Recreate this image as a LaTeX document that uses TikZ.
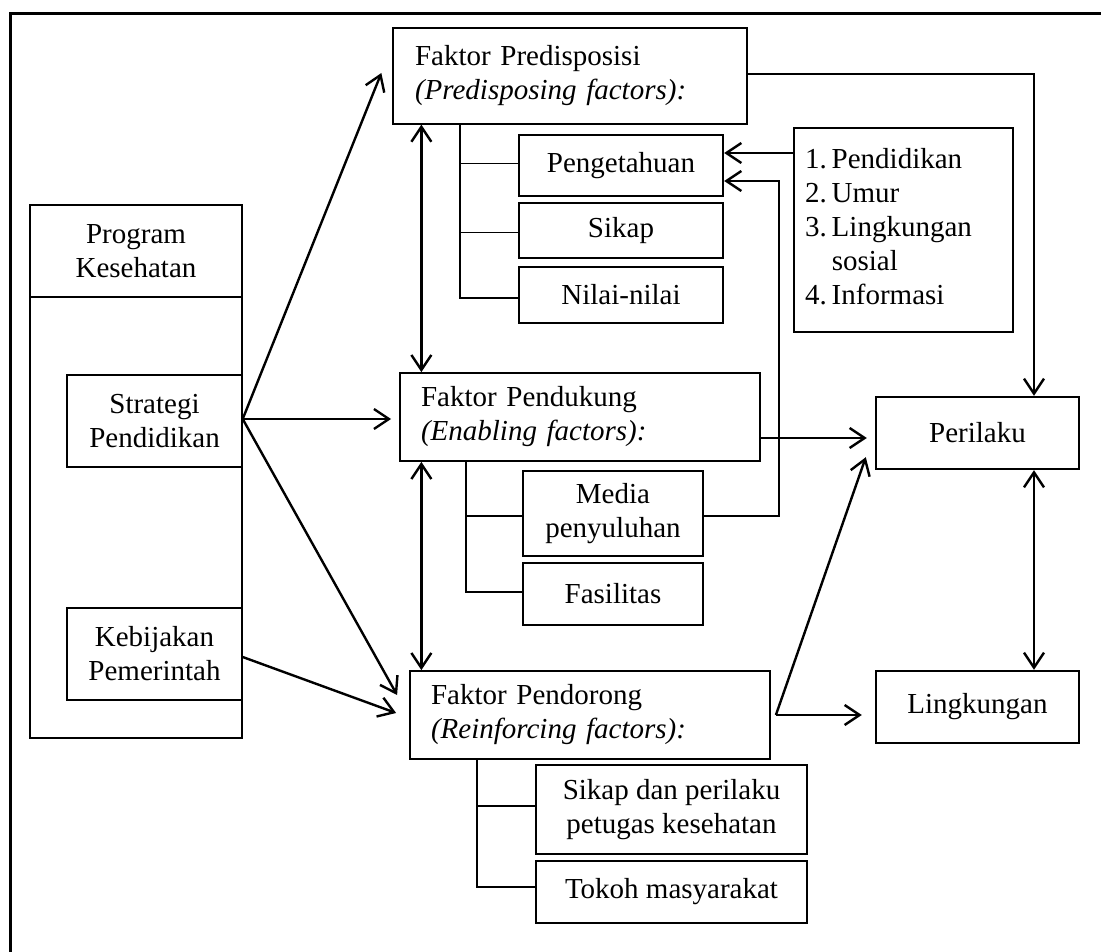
\documentclass[tikz,border=0pt]{standalone}
\usepackage{fontspec}
\setmainfont{Liberation Serif}
\usetikzlibrary{arrows.meta,calc}
\begin{document}
\begin{tikzpicture}[x=1pt,y=-1pt,
  every node/.style={font=\fontsize{29}{34}\selectfont, inner sep=0pt},
  thinbox/.style={draw, line width=1.4pt, align=center},
  thickbox/.style={draw, line width=2.4pt, align=center},
  leftbox/.style={draw, line width=1.8pt, align=left, text width=318pt, inner xsep=21pt, minimum height=88pt},
  tipshape/.style={},
  arr/.style={line width=2.4pt, -{Straight Barb[length=15pt,width=20pt,line width=2.4pt]}},
  biarr/.style={line width=2.4pt, {Straight Barb[length=15pt,width=20pt,line width=2.4pt]}-{Straight Barb[length=15pt,width=20pt,line width=2.4pt]}},
  tree/.style={line width=1.8pt}]
\useasboundingbox (0,0) rectangle (1101,952);
% outer frame
\draw[line width=3pt] (10,960) -- (10,14) -- (1110,14);

% left column
\node[thinbox, minimum width=212pt, minimum height=92pt] (progtitle) at (136,251) {Program\\Kesehatan};
\node[thinbox, minimum width=212pt, minimum height=441pt] (progbody) at (136,517.5) {};
\node[thinbox, minimum width=175pt, minimum height=92pt] (strat) at (154.5,421) {Strategi\\Pendidikan};
\node[thinbox, minimum width=175pt, minimum height=92pt] (kebij) at (154.5,654) {Kebijakan\\Pemerintah};

% factor boxes
\node[leftbox, line width=1.3pt, text width=310pt, inner xsep=22pt, minimum height=96pt] (pred) at (570,76) {Faktor Predisposisi\\\textit{(Predisposing factors):}};
\node[leftbox] (pend) at (580,417) {Faktor Pendukung\\\textit{(Enabling factors):}};
\node[leftbox] (pdr) at (590,715) {Faktor Pendorong\\\textit{(Reinforcing factors):}};

% predisposing sub-boxes
\node[thickbox, minimum width=204pt, minimum height=61pt] (peng) at (621,165.5) {Pengetahuan};
\node[thickbox, minimum width=204pt, minimum height=55pt] (sikap) at (621,230.5) {Sikap};
\node[thickbox, minimum width=204pt, minimum height=56pt] (nilai) at (621,295) {Nilai-nilai};

% list box
\node[draw, line width=2.4pt, minimum width=219pt, minimum height=204pt, align=left, text width=197pt, inner xsep=11pt] (list) at (903.5,230)
  {\begin{tabular}{@{}l@{\hspace{5pt}}l@{}}1.&Pendidikan\\2.&Umur\\3.&Lingkungan\\&sosial\\4.&Informasi\end{tabular}};

% enabling sub-boxes
\node[thickbox, minimum width=180pt, minimum height=85pt] (media) at (613,513.5) {Media\\penyuluhan};
\node[thickbox, minimum width=180pt, minimum height=62pt] (fasil) at (613,594) {Fasilitas};

% reinforcing sub-boxes
\node[thickbox, minimum width=271pt, minimum height=89pt] (sdp) at (671.5,809.5) {Sikap dan perilaku\\petugas kesehatan};
\node[thickbox, minimum width=271pt, minimum height=62pt] (tokoh) at (671.5,892) {Tokoh masyarakat};

% outcomes
\node[thickbox, minimum width=203pt, minimum height=72pt] (peril) at (977.5,433) {Perilaku};
\node[thickbox, minimum width=203pt, minimum height=72pt] (lingk) at (977.5,707) {Lingkungan};

% trees
\coordinate (t1) at ([xshift=68pt]pred.south west);
\draw[tree] (t1) |- ([yshift=-3pt]nilai.west);
\draw[tree] (t1 |- peng.west) ++(0,-2) -- ++(58,0);
\draw[tree] (t1 |- sikap.west) ++(0,2) -- ++(58,0);
\coordinate (t2) at ([xshift=67pt]pend.south west);
\draw[tree] (t2) |- ([yshift=2pt]fasil.west);
\draw[tree] (t2 |- media.west) ++(0,2.5) -- ++(56,0);
\coordinate (t3) at ([xshift=68pt]pdr.south west);
\draw[tree] (t3) |- ([yshift=5pt]tokoh.west);
\draw[tree] (t3 |- sdp.west) ++(0,-3.5) -- ++(58,0);

% arrows from program
\coordinate (sa) at ([yshift=2pt]strat.east);
\coordinate (ka) at ([yshift=-3pt]kebij.east);
\draw[arr] (sa) -- ($(pred.west)+(-11,-3)$);
\draw[arr] (sa) -- ($(sa -| pend.west)+(-8,0)$);
\draw[arr] (sa) -- ($(pdr.west)+(-12,-20)$);
\draw[arr] (ka) -- ($(pdr.west)+(-13,-2)$);

% vertical bidirectional
\coordinate (vx) at ([xshift=29pt]pred.south west);
\draw[biarr] (vx) -- (vx |- pend.north);
\draw[biarr] (vx |- pend.south) -- (vx |- pdr.north);
\draw[biarr] ([xshift=56.5pt]peril.south) -- ([xshift=56.5pt]lingk.north);

% predisposing to perilaku
\draw[arr] ([yshift=2pt]pred.east) -| ([xshift=56.5pt]peril.north);

% list to pengetahuan
\coordinate (la) at ([yshift=77pt]list.west);
\draw[arr] (la) -- (la -| peng.east);
\coordinate (mx) at ([xshift=75pt]media.east);
\coordinate (pa) at ([yshift=-15.5pt]peng.east);
\draw[arr] ([yshift=-2.5pt]media.east) -| (mx |- pa) -- (pa);

% enabling to perilaku
\coordinate (pe) at ([yshift=-21pt]pend.east);
\draw[arr] (pe) -- ($(pe -| peril.west)+(-8,0)$);

% reinforcing to outcomes
\coordinate (re) at ([xshift=5pt]pdr.east);
\draw[arr] (re) -- ($(re -| lingk.west)+(-13,0)$);
\draw[arr] (re) -- ($(peril.south west)+(-9,-13)$);
\end{tikzpicture}
\end{document}
